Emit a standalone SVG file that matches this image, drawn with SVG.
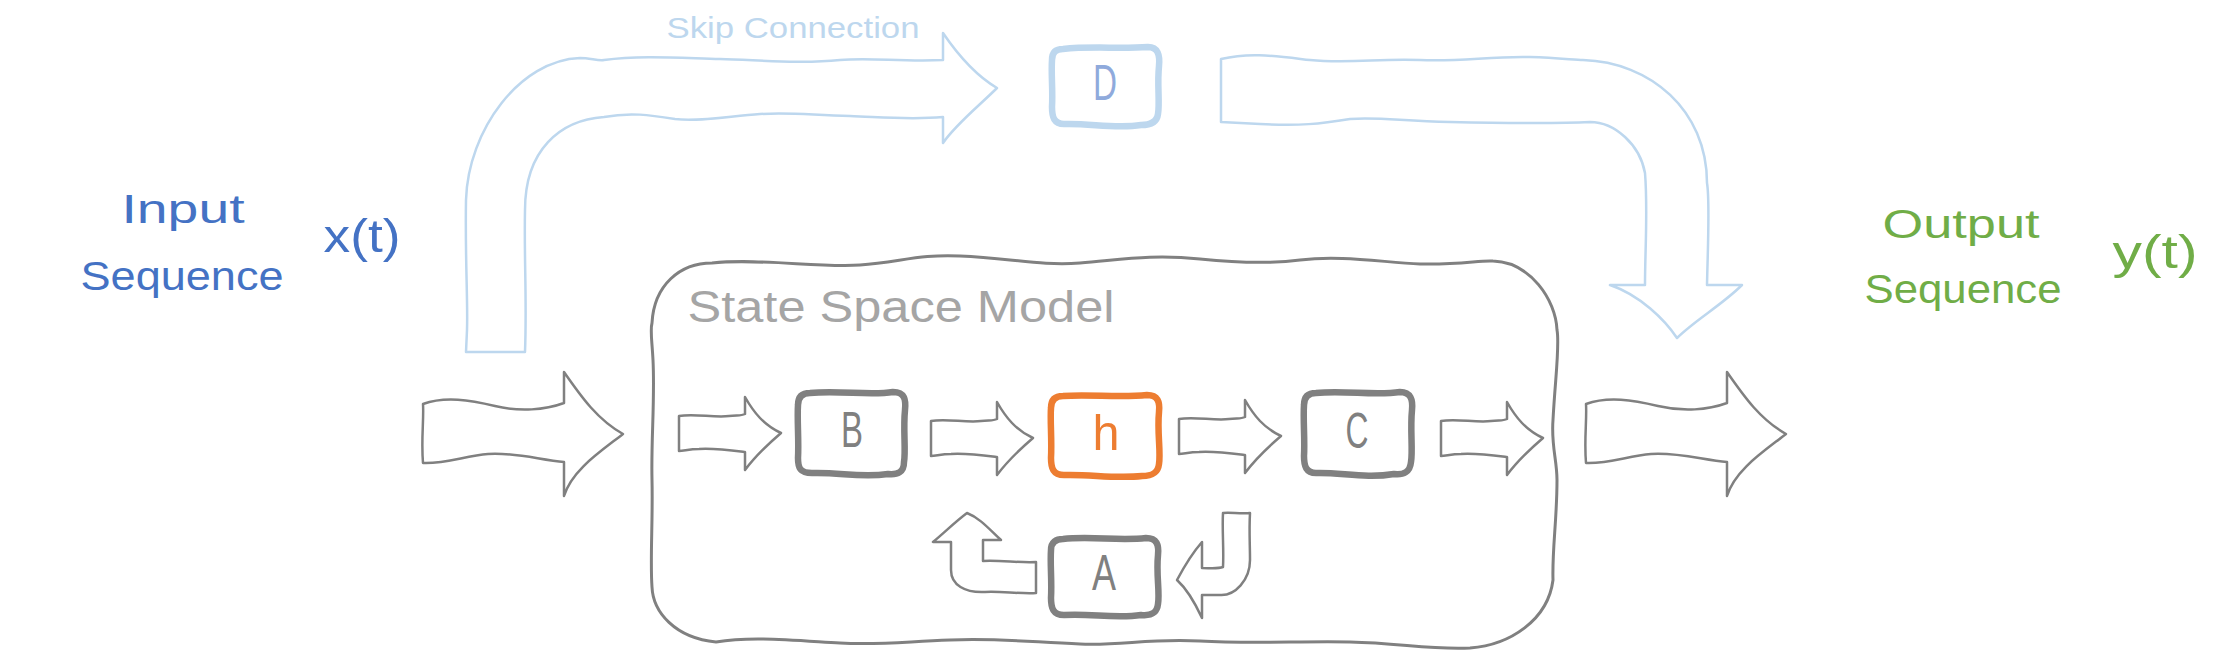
<svg xmlns="http://www.w3.org/2000/svg" width="2224" height="654" viewBox="0 0 2224 654">
<style>
text{font-family:"Liberation Sans","Noto Sans",sans-serif;text-anchor:middle}
.blk{fill:#ffffff;stroke:#808080;stroke-width:2.5;stroke-linejoin:round}
.skip{fill:#ffffff;stroke:#bdd7ee;stroke-width:2.5;stroke-linejoin:round}
.box{fill:#ffffff;stroke:#808080;stroke-width:6.5;stroke-linejoin:round}
.lbl{font-size:50px;fill:#808080}
.blue{fill:#4472c4;font-size:40px}
.green{fill:#70ad47;font-size:40px}
</style>
<defs>
<path id="sa" d="M 0,-17 C 15,-20 35,-15 50,-17 C 58,-18 62,-17 66,-19 L 66,-36 C 75,-20 85,-8 102,0 C 88,12 75,25 66,37 L 66,19 C 50,17 35,15 20,16 C 10,16 5,18 0,18 Z"/>
<path id="ba" d="M 423,404 C 445,396 470,400 495,406 C 520,412 545,410 564,403 L 564,372 C 582,398 598,420 623,434 C 600,452 572,470 564,496 L 564,462 C 540,460 515,452 488,454 C 465,456 445,464 423,463 C 421,440 424,420 423,404 Z"/>
</defs>
<rect width="2224" height="654" fill="#ffffff"/>

<g id="texts">
<text class="blue" x="183" y="223" textLength="123" lengthAdjust="spacingAndGlyphs">Input</text>
<text class="blue" x="182" y="290" textLength="203" lengthAdjust="spacingAndGlyphs">Sequence</text>
<text class="blue" x="362" y="252" style="font-size:46px" textLength="77" lengthAdjust="spacingAndGlyphs">x(t)</text>
<text class="green" x="1961" y="238" textLength="157" lengthAdjust="spacingAndGlyphs">Output</text>
<text class="green" x="1963" y="303" textLength="197" lengthAdjust="spacingAndGlyphs">Sequence</text>
<text class="green" x="2155" y="268" style="font-size:46px" textLength="85" lengthAdjust="spacingAndGlyphs">y(t)</text>
<text x="793" y="38" style="font-size:30px;fill:#bdd7ee" textLength="253" lengthAdjust="spacingAndGlyphs">Skip Connection</text>
</g>

<g id="ssm">
<path d="M 712,263 C 760,258 820,268 860,265 C 900,262 920,254 960,256 C 1010,258 1040,266 1080,263 C 1120,260 1150,254 1200,259 C 1240,263 1270,264 1300,260 C 1340,255 1380,262 1420,264 C 1460,265 1480,260 1493,261 C 1530,262 1556,300 1557,330 C 1560,345 1555,380 1553,420 C 1551,445 1557,460 1557,480 C 1557,520 1552,550 1553,580 C 1548,620 1510,645 1470,648 C 1430,650 1400,643 1350,642 C 1300,641 1250,644 1200,641 C 1150,638 1120,646 1080,644 C 1030,642 1000,638 950,640 C 900,642 880,645 840,643 C 790,640 750,636 716,642 C 675,638 653,612 652,587 C 650,560 653,520 652,480 C 651,440 655,400 653,360 C 652,340 650,330 652,323 C 654,285 680,263 712,263 Z" fill="none" stroke="#808080" stroke-width="3"/>
<text x="901" y="322" style="font-size:44px;fill:#a5a5a5" textLength="427" lengthAdjust="spacingAndGlyphs">State Space Model</text>
</g>

<g id="node-B"><path class="box" d="M 810,393 C 840,390 870,396 893,392 C 905,392 906,400 905,410 C 903,430 906,450 904,462 C 904,472 898,475 888,474 C 860,478 840,472 812,473 C 800,473 798,468 798,458 C 799,440 797,420 798,405 C 798,396 803,393 810,393 Z"/><text class="lbl" x="852" y="447" textLength="22" lengthAdjust="spacingAndGlyphs">B</text></g>
<g id="node-h"><path class="box" style="stroke:#ed7d31" d="M 1063,396 C 1090,394 1120,398 1147,395 C 1158,395 1160,402 1159,412 C 1157,432 1161,452 1159,464 C 1158,473 1152,476 1142,476 C 1115,479 1090,474 1064,475 C 1053,475 1051,468 1051,458 C 1052,440 1050,420 1051,408 C 1051,399 1056,396 1063,396 Z"/><text class="lbl" x="1106" y="450" style="fill:#ed7d31" textLength="27" lengthAdjust="spacingAndGlyphs">h</text></g>
<g id="node-C"><path class="box" d="M 1316,393 C 1345,390 1375,396 1400,392 C 1411,392 1413,400 1412,410 C 1410,430 1413,450 1411,462 C 1410,472 1404,475 1394,474 C 1365,479 1340,472 1316,473 C 1306,473 1304,466 1304,456 C 1305,440 1303,420 1304,405 C 1304,396 1309,393 1316,393 Z"/><text class="lbl" x="1357" y="448" textLength="23" lengthAdjust="spacingAndGlyphs">C</text></g>
<g id="node-A"><path class="box" d="M 1063,539 C 1090,536 1120,541 1146,538 C 1157,538 1159,545 1158,555 C 1156,575 1160,592 1158,604 C 1157,613 1151,616 1141,615 C 1115,619 1090,613 1064,615 C 1053,615 1051,608 1051,598 C 1052,580 1050,565 1051,550 C 1051,542 1056,539 1063,539 Z"/><text class="lbl" x="1104" y="590" textLength="24" lengthAdjust="spacingAndGlyphs">A</text></g>
<g id="node-D"><path class="box" style="stroke:#bdd7ee" d="M 1063,49 C 1090,46 1120,49 1148,47 C 1158,47 1160,55 1159,66 C 1157,85 1160,102 1158,114 C 1157,122 1151,125 1141,125 C 1115,129 1090,123 1064,124 C 1054,124 1052,117 1052,107 C 1053,90 1051,75 1052,60 C 1052,52 1056,49 1063,49 Z"/><text class="lbl" x="1105" y="100" style="fill:#8faadc" textLength="24" lengthAdjust="spacingAndGlyphs">D</text></g>

<g id="connectors">
<use href="#ba" class="blk"/>
<use href="#ba" class="blk" transform="translate(1163,0)"/>
<use href="#sa" class="blk" transform="translate(679,433)"/>
<use href="#sa" class="blk" transform="translate(931,438)"/>
<use href="#sa" class="blk" transform="translate(1179,436)"/>
<use href="#sa" class="blk" transform="translate(1441,438)"/>
<path class="blk" d="M 1036,562 C 1020,563 1000,560 983,561 L 983,540 L 1001,540 C 990,530 980,518 967,513 C 955,522 945,532 933,542 L 951,542 L 951,570 C 951,585 965,593 985,592 C 1000,591 1020,594 1036,593 Z"/>
<path class="blk" d="M 1223,513 C 1230,512 1240,514 1250,513 C 1249,530 1250,545 1250,560 C 1250,580 1235,596 1220,595 C 1215,595 1208,595 1202,595 L 1202,618 C 1196,605 1188,590 1177,580 C 1185,565 1195,550 1202,542 L 1202,568 C 1210,568 1218,569 1223,567 C 1224,550 1222,530 1223,513 Z"/>
<path class="skip" d="M 466,352 L 467,330 C 468,300 465,260 466,200 C 468,130 520,60 580,58 C 590,58 598,61 604,60 C 640,55 680,58 720,59 C 760,60 800,64 840,60 C 870,57 900,62 943,60 L 943,33 C 958,55 975,75 997,88 C 980,105 955,125 943,143 L 943,117 C 910,120 880,117 850,116 C 810,115 790,112 760,114 C 730,116 700,122 675,119 C 650,115 630,112 604,117 C 560,120 525,150 525,210 C 524,260 527,300 525,352 Z"/>
<path class="skip" d="M 1221,59 C 1250,52 1275,56 1310,60 C 1350,64 1380,58 1420,60 C 1460,62 1490,56 1530,57 C 1560,58 1575,60 1583,60 C 1650,62 1707,110 1707,183 C 1710,200 1708,240 1707,285 L 1742,285 C 1722,305 1695,320 1677,338 C 1665,320 1640,295 1610,285 L 1645,285 C 1645,250 1648,210 1645,173 C 1640,145 1615,122 1590,122 C 1550,124 1500,123 1450,122 C 1400,121 1380,117 1350,119 C 1320,124 1300,126 1260,124 L 1221,122 Z"/>
</g>
</svg>
